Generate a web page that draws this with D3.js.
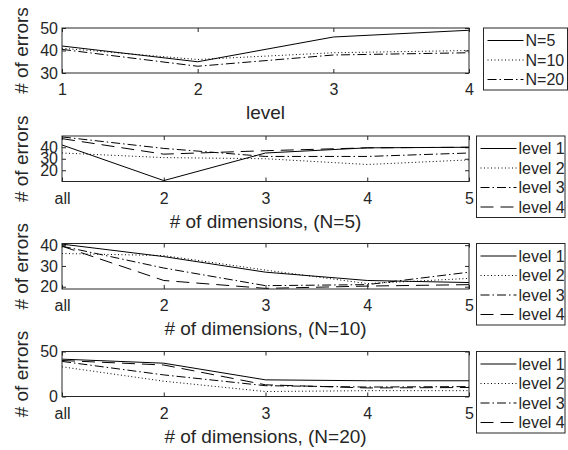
<!DOCTYPE html>
<html>
<head>
<meta charset="utf-8">
<script src="https://cdn.jsdelivr.net/npm/d3@7"></script>
<style>
  body { margin: 0; background: #fff; }
  text { font-family: "Liberation Sans", Arial, Helvetica, sans-serif; fill: #262626; }
</style>
</head>
<body>
<div id="chart"></div>
<script>
// data
const levels = [1, 2, 3, 4];
const nNames = ["N=5", "N=10", "N=20"];
const errN5 = [42, 35, 46, 49];
const errN10 = [41, 36, 39, 40];
const errN20 = [40.5, 33, 38, 39];

const dimLabels = ["all", "2", "3", "4", "5"];
const levelNames = ["level 1", "level 2", "level 3", "level 4"];
const dimsN5 = [
  [42, 11, 35, 39.5, 40],
  [35, 31, 30, 25, 29],
  [49, 39, 32, 32, 35],
  [47.5, 34, 37, 39.5, 40]
];
const dimsN10 = [
  [40.5, 34.5, 27, 23, 22],
  [36, 35, 28, 21.5, 24],
  [39.5, 29, 20.5, 21, 27],
  [39.5, 23, 19.2, 20.3, 21]
];
const dimsN20 = [
  [41.5, 37, 18.5, 17.5, 17.5],
  [33, 17, 5.5, 6.5, 6.5],
  [39, 24, 12, 10.5, 11],
  [40, 35, 13, 9.5, 10]
];

// line styles: solid, dotted, dash-dot, dashed
const dashes = [null, "1,2.5", "9,3,1.5,3", "13,7"];

const width = 568, height = 450;
const left = 62, right = 469;
const axColor = "#262626";

const svg = d3.select("#chart").append("svg")
  .attr("width", width).attr("height", height);

function panel(opts) {
  const { top, h, xLabels, yDomain, yTicks, series, names, styles, xTitle, legend } = opts;
  const g = svg.append("g");
  const x = d3.scaleLinear().domain([1, xLabels.length]).range([left, right]);
  const y = d3.scaleLinear().domain(yDomain).range([top + h, top]);

  const xt = d3.range(1, xLabels.length + 1);

  // bottom axis with labels, ticks inward
  const bx = g.append("g").attr("transform", `translate(0,${top + h})`)
    .call(d3.axisBottom(x).tickValues(xt).tickFormat(d => xLabels[d - 1])
      .tickSize(-4).tickSizeOuter(0).tickPadding(11));
  // top ticks
  const tx = g.append("g").attr("transform", `translate(0,${top})`)
    .call(d3.axisTop(x).tickValues(xt).tickFormat("").tickSize(-4).tickSizeOuter(0));
  const ly = g.append("g").attr("transform", `translate(${left},0)`)
    .call(d3.axisLeft(y).tickValues(yTicks).tickSize(-4).tickSizeOuter(0).tickPadding(4));
  const ry = g.append("g").attr("transform", `translate(${right},0)`)
    .call(d3.axisRight(y).tickValues(yTicks).tickFormat("").tickSize(-4).tickSizeOuter(0));
  [bx, tx, ly, ry].forEach(a => {
    a.select(".domain").remove();
    a.selectAll("line").attr("stroke", axColor);
    a.selectAll("text").attr("font-size", 16).attr("fill", axColor)
      .style("font-family", '"Liberation Sans", Arial, sans-serif');
  });

  const line = d3.line().x((d, i) => x(i + 1)).y(d => y(d));
  series.forEach((s, i) => {
    g.append("path").datum(s)
      .attr("d", line)
      .attr("fill", "none")
      .attr("stroke", "#000")
      .attr("stroke-width", 1)
      .attr("stroke-dasharray", styles[i]);
  });

  g.append("rect")
    .attr("x", left).attr("y", top)
    .attr("width", right - left).attr("height", h)
    .attr("fill", "none").attr("stroke", axColor).attr("stroke-width", 1);

  // axis titles
  g.append("text")
    .attr("x", (left + right) / 2).attr("y", top + h + 46)
    .attr("text-anchor", "middle").attr("font-size", 19)
    .text(xTitle);
  g.append("text")
    .attr("transform", `translate(28,${top + h / 2}) rotate(-90)`)
    .attr("text-anchor", "middle").attr("font-size", 19)
    .text("# of errors");

  // legend
  const lg = g.append("g");
  const rowH = 19.5;
  lg.append("rect")
    .attr("x", legend.x).attr("y", top)
    .attr("width", legend.w).attr("height", names.length * rowH + 3.5)
    .attr("fill", "#fff").attr("stroke", axColor).attr("stroke-width", 1);
  names.forEach((n, i) => {
    const cy = top + 12.5 + i * rowH;
    lg.append("line")
      .attr("x1", legend.x + 4).attr("x2", legend.x + 40)
      .attr("y1", cy).attr("y2", cy)
      .attr("stroke", "#000").attr("stroke-width", 1)
      .attr("stroke-dasharray", styles[i]);
    lg.append("text")
      .attr("x", legend.x + 42).attr("y", cy + 5.7)
      .attr("font-size", 16)
      .text(n);
  });
}

panel({
  top: 28, h: 45, xLabels: levels.map(String), yDomain: [30, 50], yTicks: [30, 40, 50],
  series: [errN5, errN10, errN20], names: nNames, styles: [dashes[0], dashes[1], dashes[2]],
  xTitle: "level", legend: { x: 483.5, w: 84 }
});
panel({
  top: 136, h: 45.5, xLabels: dimLabels, yDomain: [10.2, 49.8], yTicks: [20, 30, 40],
  series: dimsN5, names: levelNames, styles: dashes,
  xTitle: "# of dimensions, (N=5)", legend: { x: 476.5, w: 88.5 }
});
panel({
  top: 243.5, h: 45.5, xLabels: dimLabels, yDomain: [18.9, 40.8], yTicks: [20, 30, 40],
  series: dimsN10, names: levelNames, styles: dashes,
  xTitle: "# of dimensions, (N=10)", legend: { x: 476.5, w: 88.5 }
});
panel({
  top: 351.5, h: 45, xLabels: dimLabels, yDomain: [0, 50], yTicks: [0, 50],
  series: dimsN20, names: levelNames, styles: dashes,
  xTitle: "# of dimensions, (N=20)", legend: { x: 476.5, w: 88.5 }
});
</script>
</body>
</html>
